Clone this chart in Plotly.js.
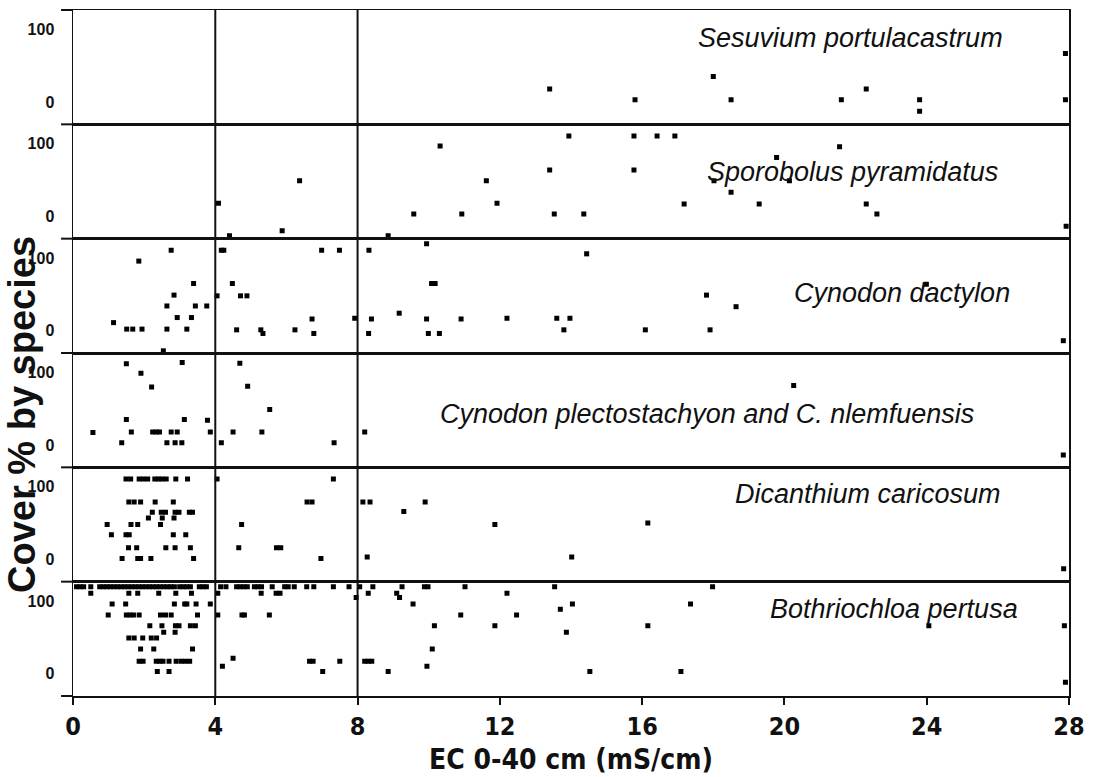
<!DOCTYPE html>
<html>
<head>
<meta charset="utf-8">
<script src="https://cdn.plot.ly/plotly-3.0.1.min.js"></script>
<style>html,body{margin:0;padding:0;background:#fff;}#chart{width:1097px;height:777px;}</style>
</head>
<body>
<div id="chart"></div>
<script>
// ---- Data (EC in mS/cm, cover % by species) ----
const speciesNames = [
  "Sesuvium portulacastrum",
  "Sporobolus pyramidatus",
  "Cynodon dactylon",
  "Cynodon plectostachyon and C. nlemfuensis",
  "Dicanthium caricosum",
  "Bothriochloa pertusa"
];
const xTickVals = [0, 4, 8, 12, 16, 20, 24, 28];
const yTickVals = [0, 100];

const sesuviumX = [13.4, 15.8, 18.0, 18.5, 21.6, 22.3, 23.8, 23.8, 27.9, 27.9];
const sesuviumY = [18, 3, 35, 3, 3, 18, 3, -13, 3, 67];

const sporobolusX = [4.09, 4.4, 5.88, 6.37, 8.86, 9.58, 10.32, 10.93, 11.62, 11.92, 13.4, 13.53, 13.94, 14.36, 15.77, 15.77, 16.42, 16.92, 17.18, 18.02, 18.5, 19.29, 19.78, 20.14, 21.55, 22.3, 22.6, 27.92];
const sporobolusY = [18, -27, -20, 49, -27, 3, 97, 3, 49, 18, 64, 3, 111, 3, 111, 64, 111, 111, 17, 49, 33, 17, 81, 49, 96, 17, 3, -14];

const dactylonX = [1.14, 1.51, 1.68, 1.85, 1.94, 2.54, 2.64, 2.64, 2.76, 2.84, 2.93, 3.2, 3.33, 3.39, 3.44, 3.76, 4.05, 4.17, 4.24, 4.48, 4.6, 4.71, 4.89, 5.28, 5.34, 6.24, 6.72, 6.77, 6.99, 7.49, 7.92, 8.31, 8.32, 8.39, 9.17, 9.94, 9.94, 9.99, 10.08, 10.18, 10.3, 10.91, 12.2, 13.6, 13.8, 13.97, 14.44, 16.09, 17.81, 17.91, 18.64, 23.99, 27.84];
const dactylonY = [11, 2, 2, 96, 2, -28, 34, 2, 111, 49, 18, 2, 18, 65, 34, 34, 48, 111, 111, 65, 1, 48, 48, 1, -4, 1, 16, -4, 111, 111, 17, -4, 111, 16, 24, 16, 120, -4, 65, 65, -4, 16, 17, 17, 1, 17, 106, 1, 49, 1, 33, 64, -14];

const plectoX = [0.56, 1.37, 1.5, 1.5, 1.64, 1.91, 2.21, 2.24, 2.34, 2.43, 2.64, 2.76, 2.87, 2.93, 3.06, 3.07, 3.13, 3.78, 3.86, 4.17, 4.5, 4.69, 4.91, 5.31, 5.53, 7.34, 8.2, 20.26, 27.84];
const plectoY = [17, 3, 112, 35, 18, 99, 80, 18, 18, 18, 3, 18, 3, 18, 3, 114, 35, 34, 18, 3, 18, 113, 81, 18, 49, 3, 18, 82, -14];

const dicanthiumX = [
  1.49, 1.62, 1.86, 1.98, 2.1, 2.3, 2.4, 2.5, 2.62, 2.89, 3.22, 4.05, 7.32,
  1.57, 1.72, 1.9, 2.31, 2.82, 6.58, 6.72, 8.15, 8.35, 9.9,
  9.3,
  2.23, 2.48, 2.6, 2.87, 2.98, 3.27, 3.36,
  2.12, 2.51, 2.84,
  0.96, 1.63, 1.82, 2.46, 4.74, 11.86,
  16.16,
  1.08, 1.49, 1.58, 2.82, 3.17,
  1.56, 1.79, 2.61, 2.87, 3.3, 4.66, 5.72, 5.84,
  1.38, 1.82, 1.9, 2.19, 3.39, 6.97,
  8.27, 14.02,
  27.85
];
const dicanthiumY = [
  111, 111, 111, 111, 111, 111, 111, 111, 111, 111, 111, 111, 111,
  79, 79, 79, 79, 79, 79, 79, 79, 79, 79,
  66,
  65, 65, 65, 65, 65, 65, 65,
  57, 57, 57,
  48, 48, 48, 48, 48, 48,
  50,
  34, 34, 34, 34, 34,
  16, 16, 16, 16, 16, 16, 16, 16,
  1, 1, 1, 1, 1, 1,
  3, 3,
  -13
];

const bothriochloaX = [
  0.1, 0.2, 0.3, 0.5, 0.75, 0.85, 0.95, 1.05, 1.15, 1.25, 1.35, 1.45, 1.55, 1.65, 1.75, 1.85, 1.95, 2.05, 2.15, 2.25, 2.35, 2.45, 2.55, 2.65, 2.75, 2.85, 3.0, 3.1, 3.2, 3.3, 3.55, 3.65, 3.75, 4.15, 4.3, 4.6, 4.7, 4.8, 4.9, 5.1, 5.2, 5.3, 5.6, 5.95, 6.05, 6.22, 6.57, 6.77, 7.32, 7.76, 8.06, 8.43, 9.25, 9.88, 9.98, 11.02, 13.54, 17.98,
  0.5, 1.57, 1.82, 2.41, 2.89, 3.33, 4.07, 5.29, 5.71, 5.82, 8.3, 9.1, 12.2,
  7.96, 9.18,
  1.1, 1.48, 2.85, 3.14, 3.2, 3.46, 3.86, 9.56, 14.04, 17.36,
  13.7,
  0.99, 1.5, 1.6, 1.7, 1.86, 2.46, 2.6, 2.76, 3.5, 4.07, 4.75, 4.82, 5.52, 10.9, 12.47,
  2.16, 2.5, 2.88, 2.98, 3.3, 3.44, 10.16, 11.86, 16.16, 24.06, 27.87,
  2.55, 2.87, 13.87,
  1.57, 1.72, 1.96, 2.2, 2.35,
  1.9, 2.27, 3.36, 10.1,
  4.5,
  1.86, 1.97, 2.34, 2.44, 2.53, 2.7, 2.9, 3.04, 3.16, 3.28, 6.65, 6.75, 7.5, 8.2, 8.3, 8.4,
  4.2, 9.95,
  2.37, 2.7, 7.02, 8.86, 14.53, 17.09,
  27.9
];
const bothriochloaY = [
  120, 120, 120, 120, 120, 120, 120, 120, 120, 120, 120, 120, 120, 120, 120, 120, 120, 120, 120, 120, 120, 120, 120, 120, 120, 120, 120, 120, 120, 120, 120, 120, 120, 120, 120, 120, 120, 120, 120, 120, 120, 120, 120, 120, 120, 120, 120, 120, 120, 120, 120, 120, 120, 120, 120, 120, 120, 120,
  111, 111, 111, 111, 111, 111, 111, 111, 111, 111, 111, 111, 111,
  105, 105,
  96, 96, 96, 96, 96, 96, 96, 96, 96, 96,
  89,
  81, 81, 81, 81, 81, 81, 81, 81, 81, 81, 81, 81, 81, 81, 81,
  66, 66, 66, 66, 66, 66, 66, 66, 66, 66, 66,
  57, 57, 57,
  49, 49, 49, 49, 49,
  34, 34, 34, 34,
  21,
  17, 17, 17, 17, 17, 17, 17, 17, 17, 17, 17, 17, 17, 17, 17, 17,
  10, 10,
  3, 3, 3, 3, 3, 3,
  -12
];

const panelX = [sesuviumX, sporobolusX, dactylonX, plectoX, dicanthiumX, bothriochloaX];
const panelY = [sesuviumY, sporobolusY, dactylonY, plectoY, dicanthiumY, bothriochloaY];

// ---- Layout / styling ----
const N = 6;
const narrowBold = "'Liberation Sans Narrow', 'DejaVu Sans Condensed', 'Liberation Sans', Arial, sans-serif";
const sans = "'Liberation Sans', Arial, Helvetica, sans-serif";
const labelX = [0.781, 0.783, 0.832, 0.637, 0.798, 0.824];
const labelY = [0.755, 0.587, 0.529, 0.47, 0.768, 0.759];

const traces = [];
const layout = {
  width: 1097, height: 777,
  margin: {l: 73, r: 28, t: 10, b: 81},
  paper_bgcolor: '#fff', plot_bgcolor: '#fff',
  showlegend: false,
  annotations: [],
  shapes: []
};

for (let i = 0; i < N; i++) {
  const k = i + 1;
  const xa = k === 1 ? 'x' : 'x' + k;
  const ya = k === 1 ? 'y' : 'y' + k;
  traces.push({
    type: 'scatter', mode: 'markers',
    x: panelX[i], y: panelY[i],
    xaxis: xa, yaxis: ya,
    marker: {symbol: 'square', size: 5, color: '#000', line: {width: 0}},
    cliponaxis: true,
    hoverinfo: 'x+y'
  });
  const top = 1 - i / N, bot = 1 - (i + 1) / N;
  const isBottom = (k === N);
  const xax = {
    domain: [0, 1], anchor: ya, range: [0, 28],
    showline: true, mirror: true, linecolor: '#111', linewidth: 1.5,
    showgrid: false, zeroline: false,
    tickvals: xTickVals,
    ticks: isBottom ? 'outside' : '', ticklen: 7, tickwidth: 2, tickcolor: '#111',
    showticklabels: isBottom,
    tickfont: {family: narrowBold, size: 25, color: '#111', weight: 'bold'}
  };
  if (k !== 1) xax.matches = 'x';
  layout['xaxis' + (k === 1 ? '' : k)] = xax;
  layout['yaxis' + (k === 1 ? '' : k)] = {
    domain: [bot, top], anchor: xa, range: [-31, 127],
    showline: true, mirror: true, linecolor: '#111', linewidth: 1.5,
    showgrid: false, zeroline: false,
    tickvals: yTickVals, ticks: '',
    ticklabelstandoff: 14,
    tickfont: {family: sans, size: 16, color: '#111', weight: 'bold'}
  };
  layout.annotations.push({
    text: '<i>' + speciesNames[i] + '</i>',
    xref: 'paper', yref: ya + ' domain',
    x: labelX[i], y: labelY[i], xanchor: 'center', yanchor: 'middle',
    showarrow: false,
    font: {family: sans, size: 27, color: '#111'}
  });
}

// vertical reference lines at EC 4 and 8
[4, 8].forEach(v => layout.shapes.push({
  type: 'line', xref: 'x', yref: 'paper', x0: v, x1: v, y0: 0, y1: 1,
  line: {color: '#111', width: 2}
}));
// small extensions of panel boundaries to the left of the axis
for (let j = 0; j <= N; j++) {
  layout.shapes.push({
    type: 'line', xref: 'paper', yref: 'paper', x0: -0.012, x1: 0, y0: j / N, y1: j / N,
    line: {color: '#111', width: 2}
  });
}

layout.annotations.push({
  text: 'Cover % by species', textangle: -90,
  xref: 'paper', yref: 'paper', x: -0.051, y: 0.41,
  xanchor: 'center', yanchor: 'middle', showarrow: false,
  font: {family: sans, size: 38, color: '#111', weight: 'bold'}
});
layout.annotations.push({
  text: 'EC 0-40 cm (mS/cm)',
  xref: 'paper', yref: 'paper', x: 0.5, y: -0.092,
  xanchor: 'center', yanchor: 'middle', showarrow: false,
  font: {family: narrowBold, size: 28, color: '#111', weight: 'bold'}
});

Plotly.newPlot('chart', traces, layout, {displayModeBar: false, staticPlot: true});
</script>
</body>
</html>
